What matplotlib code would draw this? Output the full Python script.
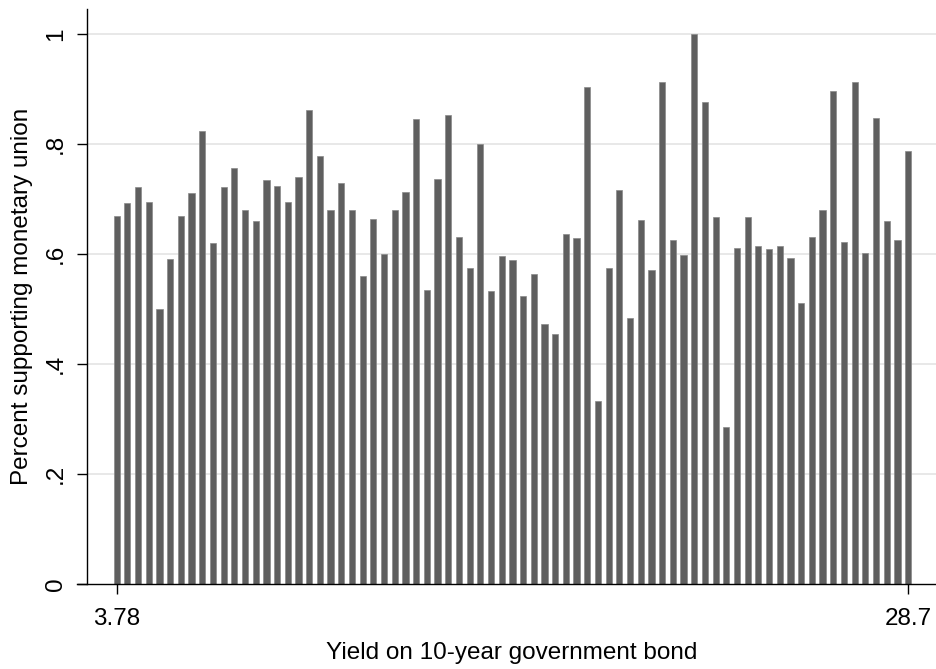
import numpy as np
import matplotlib
matplotlib.use("Agg")
import matplotlib.pyplot as plt

plt.rcParams["font.family"] = ["Liberation Sans", "DejaVu Sans"]

# Share supporting monetary union, one bar per yield level (sorted from 3.78 to 28.7)
support = [
    0.669, 0.692, 0.721, 0.694, 0.500, 0.590, 0.669, 0.710, 0.823, 0.619,
    0.721, 0.756, 0.679, 0.660, 0.735, 0.723, 0.695, 0.740, 0.862, 0.778,
    0.680, 0.728, 0.679, 0.559, 0.663, 0.600, 0.680, 0.713, 0.846, 0.534,
    0.736, 0.852, 0.630, 0.575, 0.799, 0.532, 0.597, 0.589, 0.523, 0.564,
    0.472, 0.454, 0.636, 0.629, 0.904, 0.332, 0.574, 0.716, 0.483, 0.661,
    0.571, 0.912, 0.625, 0.598, 1.000, 0.876, 0.667, 0.286, 0.611, 0.667,
    0.615, 0.609, 0.615, 0.593, 0.511, 0.631, 0.680, 0.896, 0.621, 0.912,
    0.602, 0.847, 0.659, 0.625, 0.787,
]
x_tick_labels = ["3.78", "28.7"]
y_ticks = [0, 0.2, 0.4, 0.6, 0.8, 1.0]
y_tick_labels = ["0", ".2", ".4", ".6", ".8", "1"]

pos = np.arange(len(support))

fig = plt.figure(figsize=(9.37, 6.69), dpi=100)
ax = fig.add_axes([0.0928, 0.127, 0.9072, 0.8595])

ax.bar(pos, support, width=0.58, color="#5f5f5f", edgecolor="#8a8a8a",
       linewidth=0.5, zorder=2)

ax.set_xlim(-2.78, 76.7)
ax.set_ylim(0, 1.045)

ax.set_yticks(y_ticks)
ax.set_yticklabels(y_tick_labels, rotation=90, va="center")
ax.set_xticks([pos[0], pos[-1]])
ax.set_xticklabels(x_tick_labels)
ax.tick_params(axis="both", labelsize=17.5, length=7.5, width=1, direction="out")
ax.tick_params(axis="x", pad=10)
ax.tick_params(axis="y", pad=7)

for y in y_ticks[1:]:
    ax.axhline(y, color="#e6e6e6", linewidth=1.3, zorder=1)

for side in ["top", "right"]:
    ax.spines[side].set_visible(False)
ax.spines["left"].set_linewidth(1)
ax.spines["bottom"].set_linewidth(1)
ax.spines["bottom"].set_bounds(-3.7, 76.7)

fig.text(0.546, 1 - 653 / 669, "Yield on 10-year government bond",
         ha="center", va="center", fontsize=17.5)
fig.text(22 / 937, 1 - 296 / 669, "Percent supporting monetary union",
         ha="center", va="center", rotation=90, fontsize=17.5)

fig.savefig("out.png", dpi=100)
